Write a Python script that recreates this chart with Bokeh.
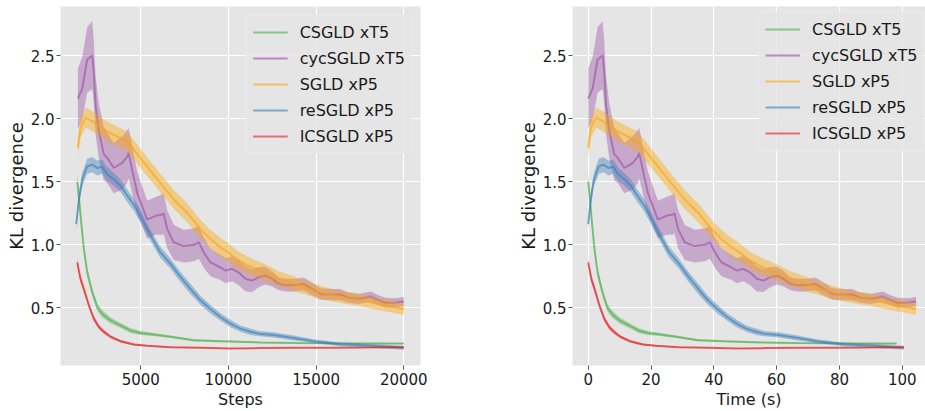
import numpy as np
from bokeh.plotting import figure
from bokeh.layouts import row
from bokeh.models import (Range1d, FixedTicker, NumeralTickFormatter, Legend, LegendItem)
from bokeh.embed import file_html
from bokeh.resources import INLINE

# ---------------- data ----------------
labels = ["CSGLD xT5", "cycSGLD xT5", "SGLD xP5", "reSGLD xP5", "ICSGLD xP5"]
colors = ["#4daf4a", "#984ea3", "#ffa500", "#377eb8", "#e41a1c"]
# wall-clock time (s) reached at the last step, per series
time_end = [98.2, 104.4, 104.4, 100.5, 100.5]

csgld_steps = [1375, 1470, 1600, 1750, 1945, 2230, 2515, 2800, 3270, 3840, 4410, 4980,
               5740, 6690, 8020, 9540, 11820, 14000, 16000, 18000, 20000]
csgld_kl = [1.50, 1.38, 1.18, 0.97, 0.78, 0.625, 0.506, 0.453, 0.40, 0.36, 0.32, 0.30,
            0.288, 0.27, 0.243, 0.235, 0.225, 0.22, 0.218, 0.217, 0.216]
csgld_sd = [0.07, 0.06, 0.05, 0.04, 0.035, 0.03, 0.03, 0.03, 0.025, 0.02, 0.02, 0.015,
            0.012, 0.01, 0.008, 0.007, 0.006, 0.005, 0.005, 0.005, 0.005]

cyc_steps = [1410, 1660, 1945, 2230, 2320, 2420, 2610, 2890, 3085, 3460, 3940, 4225, 4300,
             4795, 5365, 5840, 6220, 6300, 6505, 6880, 7450, 8020, 8310, 8590, 8970, 9540,
             9830, 10210, 10590, 10970, 11350, 11730, 12110, 12490, 12870, 13250, 13820,
             14290, 14770, 15240, 15910, 16380, 16860, 17430, 18090, 18570, 18950, 19520, 20000]
cyc_kl = [2.16, 2.24, 2.47, 2.505, 2.37, 2.11, 1.90, 1.72, 1.69, 1.61, 1.65, 1.70, 1.73,
          1.41, 1.20, 1.23, 1.24, 1.25, 1.125, 1.02, 0.99, 1.00, 1.02, 0.94, 0.86, 0.82,
          0.795, 0.81, 0.78, 0.73, 0.716, 0.743, 0.755, 0.73, 0.69, 0.68, 0.68,
          0.69, 0.65, 0.61, 0.605, 0.605, 0.58, 0.57, 0.59, 0.56, 0.54, 0.54, 0.55]
cyc_sd = [0.24, 0.25, 0.26, 0.27, 0.25, 0.23, 0.22, 0.21, 0.20, 0.20, 0.21, 0.21, 0.20,
          0.17, 0.15, 0.15, 0.16, 0.16, 0.15, 0.14, 0.13, 0.13, 0.13, 0.12, 0.11, 0.10,
          0.10, 0.10, 0.10, 0.10, 0.09, 0.08, 0.07, 0.06, 0.05, 0.05, 0.05,
          0.05, 0.05, 0.045, 0.045, 0.045, 0.04, 0.04, 0.04, 0.04, 0.04, 0.035, 0.035]

sgld_steps = [1410, 1560, 1850, 2130, 2515, 3085, 3650, 4225, 4600, 5365, 6120, 6880, 7640,
              8400, 8970, 9540, 9830, 10590, 11350, 12110, 12870, 13630, 14390, 15150,
              15910, 16670, 17430, 18190, 18950, 20000]
sgld_kl = [1.77, 1.93, 2.01, 1.99, 1.955, 1.90, 1.86, 1.82, 1.755, 1.62, 1.49, 1.36, 1.255,
           1.125, 1.045, 0.98, 0.955, 0.875, 0.82, 0.78, 0.73, 0.695, 0.66, 0.625,
           0.60, 0.58, 0.565, 0.54, 0.52, 0.49]
sgld_sd = [0.07, 0.08, 0.08, 0.08, 0.08, 0.08, 0.08, 0.08, 0.08, 0.075, 0.075, 0.075, 0.075,
           0.075, 0.075, 0.075, 0.075, 0.07, 0.07, 0.065, 0.06, 0.06, 0.055, 0.055,
           0.05, 0.05, 0.05, 0.05, 0.05, 0.045]

re_steps = [1320, 1470, 1660, 1945, 2230, 2515, 2800, 3085, 3460, 3840, 4225, 4600, 4980,
            5365, 5740, 6120, 6690, 7260, 7830, 8400, 8970, 9540, 10110, 10680, 11250,
            11730, 12580, 13720, 14860, 16380, 18280, 20000]
re_kl = [1.164, 1.36, 1.52, 1.624, 1.637, 1.61, 1.62, 1.56, 1.52, 1.47, 1.39, 1.32, 1.23,
         1.125, 1.03, 0.94, 0.85, 0.745, 0.65, 0.56, 0.49, 0.427, 0.375, 0.335, 0.31,
         0.295, 0.285, 0.26, 0.235, 0.21, 0.198, 0.183]
re_sd = [0.04, 0.05, 0.055, 0.06, 0.06, 0.06, 0.055, 0.055, 0.05, 0.05, 0.05, 0.05, 0.05,
         0.045, 0.045, 0.045, 0.04, 0.04, 0.04, 0.035, 0.035, 0.03, 0.03, 0.025, 0.025,
         0.02, 0.02, 0.02, 0.015, 0.015, 0.015, 0.015]

ic_steps = [1375, 1560, 1750, 2035, 2320, 2610, 2890, 3270, 3840, 4600, 5365, 6690, 8590,
            10110, 11820, 14000, 16000, 18000, 20000]
ic_kl = [0.86, 0.73, 0.65, 0.52, 0.414, 0.348, 0.31, 0.27, 0.235, 0.209, 0.198, 0.187, 0.182,
         0.177, 0.18, 0.182, 0.183, 0.185, 0.186]
ic_sd = [0.03, 0.03, 0.025, 0.02, 0.02, 0.018, 0.015, 0.012, 0.01, 0.008, 0.006, 0.005, 0.005,
         0.004, 0.004, 0.004, 0.004, 0.004, 0.004]

series_steps = [csgld_steps, cyc_steps, sgld_steps, re_steps, ic_steps]
series_kl = [csgld_kl, cyc_kl, sgld_kl, re_kl, ic_kl]
series_sd = [csgld_sd, cyc_sd, sgld_sd, re_sd, ic_sd]

y_ticks = [0.5, 1.0, 1.5, 2.0, 2.5]
steps_ticks = [5000, 10000, 15000, 20000]
time_ticks = [0, 20, 40, 60, 80, 100]

FONT = "DejaVu Sans"
BG = "#e5e5e5"


def style(p, xticks, xlabel):
    p.background_fill_color = BG
    p.border_fill_color = "white"
    p.outline_line_color = None
    p.grid.grid_line_color = "white"
    p.grid.grid_line_width = 1.2
    p.xaxis.ticker = FixedTicker(ticks=xticks)
    p.yaxis.ticker = FixedTicker(ticks=y_ticks)
    p.yaxis.formatter = NumeralTickFormatter(format="0.0")
    for ax in (p.xaxis[0], p.yaxis[0]):
        ax.axis_line_color = None
        ax.major_tick_line_color = "#555555"
        ax.major_tick_out = 4
        ax.major_tick_in = 0
        ax.minor_tick_line_color = None
        ax.major_label_text_font = FONT
        ax.major_label_text_font_size = "15px"
        ax.major_label_text_color = "#1a1a1a"
        ax.major_label_standoff = 3
        ax.axis_label_text_font = FONT
        ax.axis_label_text_font_style = "normal"
        ax.axis_label_text_color = "#1a1a1a"
    p.xaxis.axis_label = xlabel
    p.xaxis.axis_label_text_font_size = "16px"
    p.xaxis.axis_label_standoff = 2
    p.yaxis.axis_label = "KL divergence"
    p.yaxis.axis_label_text_font_size = "18px"
    p.yaxis.major_label_standoff = 2
    p.yaxis.axis_label_standoff = 1


def draw(p, use_time):
    items = []
    for i in range(len(labels)):
        s = np.array(series_steps[i], dtype=float)
        v = np.array(series_kl[i])
        sd = np.array(series_sd[i])
        if use_time:
            x = (s - s[0]) / (s[-1] - s[0]) * time_end[i]
        else:
            x = s
        p.varea(x=x, y1=v - sd, y2=v + sd, fill_color=colors[i], fill_alpha=0.4)
        r = p.line(x=x, y=v, line_color=colors[i], line_alpha=0.6, line_width=2)
        items.append(LegendItem(label=labels[i], renderers=[r]))
    return items


def make_legend(items):
    lg = Legend(items=items)
    lg.label_text_font = FONT
    lg.label_text_font_size = "16px"
    lg.label_text_color = "#1a1a1a"
    lg.glyph_width = 35
    lg.glyph_height = 22
    lg.label_height = 22
    lg.label_standoff = 12
    lg.spacing = 4
    lg.padding = 6
    lg.background_fill_color = BG
    lg.background_fill_alpha = 0.8
    lg.border_line_color = "#f2f2f2"
    lg.border_line_width = 1
    lg.border_radius = 4
    return lg


H = 411
p1 = figure(width=470, height=H, output_backend="svg", toolbar_location=None,
            x_range=Range1d(420, 20952), y_range=Range1d(0.042, 2.892),
            min_border_left=60, min_border_right=50, min_border_top=6, min_border_bottom=44)
style(p1, steps_ticks, "Steps")
lg1 = make_legend(draw(p1, False))
lg1.location = "top_right"
lg1.margin = 8
p1.add_layout(lg1)

p2 = figure(width=455, height=H, output_backend="svg", toolbar_location=None,
            x_range=Range1d(-5.0, 107.4), y_range=Range1d(0.042, 2.892),
            min_border_left=102, min_border_right=0, min_border_top=6, min_border_bottom=44)
style(p2, time_ticks, "Time (s)")
lg2 = make_legend(draw(p2, True))
lg2.location = (186, 214)
lg2.margin = 0
p2.add_layout(lg2)

layout = row(p1, p2)
open("out.html", "w").write(file_html(layout, INLINE))
